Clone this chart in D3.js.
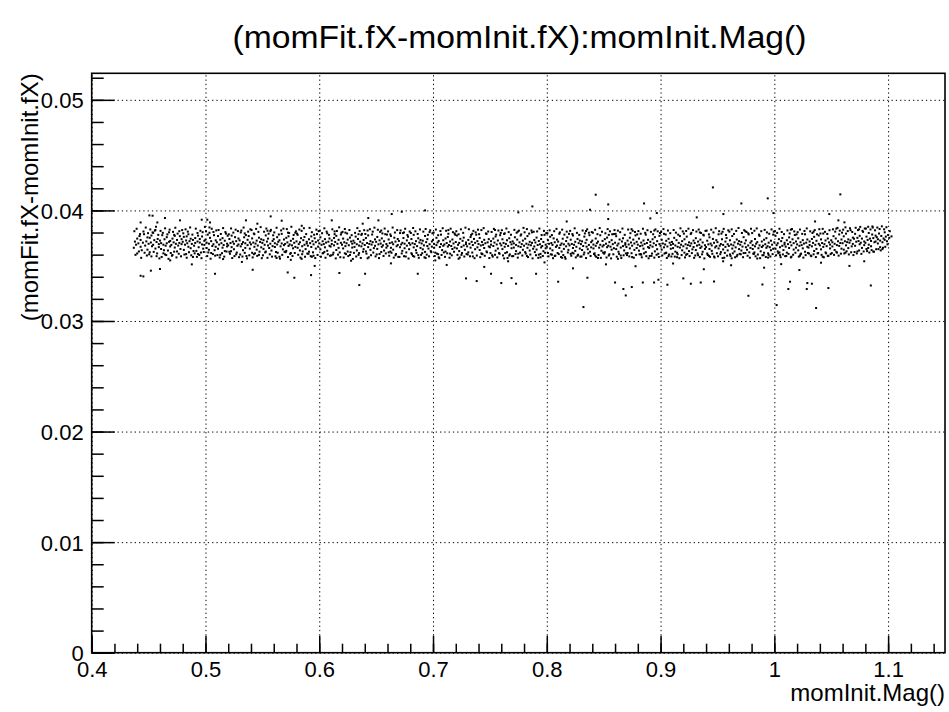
<!DOCTYPE html>
<html lang="en">
<head>
    <meta charset="utf-8">
    <style>
        body { margin: 0; background: #fff; }
        svg { display: block; }
        text { font-family: "Liberation Sans", Arial, Helvetica, sans-serif; fill: #000; }
    </style>
</head>
<body>
    <svg width="949" height="712"></svg>
    <script src="https://cdn.jsdelivr.net/npm/d3@7"></script>
    <script>
        /************************************************************************************
        * Data
        ************************************************************************************/
        const title = "(momFit.fX-momInit.fX):momInit.Mag()";
        const xTitle = "momInit.Mag()";
        const yTitle = "(momFit.fX-momInit.fX)";

        const xTicks = [0.4, 0.5, 0.6, 0.7, 0.8, 0.9, 1.0, 1.1];
        const xTickLabels = ["0.4", "0.5", "0.6", "0.7", "0.8", "0.9", "1", "1.1"];
        const yTicks = [0, 0.01, 0.02, 0.03, 0.04, 0.05];
        const yTickLabels = ["0", "0.01", "0.02", "0.03", "0.04", "0.05"];

        // [momInit.Mag(), momFit.fX - momInit.fX] : core of the band
        const bandPoints = [
            [0.437,0.03662],[0.438,0.03718],[0.439,0.03690],[0.440,0.03745],[0.440,0.03611],[0.441,0.03702],[0.442,0.03768],[0.443,0.03671],[0.443,0.03733],[0.444,0.03640],[0.445,0.03708],[0.446,0.03785],[0.447,0.03682],[0.448,0.03720],[0.449,0.03645],[0.449,0.03756],
            [0.450,0.03698],[0.451,0.03752],[0.451,0.03622],[0.452,0.03710],[0.453,0.03676],[0.454,0.03797],[0.454,0.03689],[0.455,0.03731],[0.456,0.03655],[0.457,0.03714],[0.457,0.03586],[0.458,0.03742],[0.459,0.03695],[0.459,0.03668],[0.456,0.03823],
            [0.460,0.03727],[0.461,0.03651],[0.461,0.03704],[0.462,0.03776],[0.463,0.03690],[0.463,0.03612],[0.464,0.03739],[0.465,0.03681],[0.466,0.03758],[0.466,0.03703],[0.467,0.03637],[0.468,0.03716],[0.468,0.03802],[0.469,0.03674],[0.469,0.03724],
            [0.470,0.03688],[0.471,0.03745],[0.471,0.03597],[0.472,0.03711],[0.473,0.03664],[0.473,0.03770],[0.474,0.03698],[0.475,0.03629],[0.475,0.03733],[0.476,0.03682],[0.477,0.03812],[0.477,0.03706],[0.478,0.03651],[0.479,0.03740],[0.479,0.03695],
            [0.480,0.03716],[0.481,0.03643],[0.481,0.03761],[0.482,0.03690],[0.483,0.03728],[0.483,0.03605],[0.484,0.03703],[0.485,0.03784],[0.485,0.03671],[0.486,0.03722],[0.487,0.03658],[0.487,0.03744],[0.488,0.03697],[0.489,0.03579],[0.489,0.03733],
            [0.490,0.03681],[0.491,0.03750],[0.491,0.03706],[0.492,0.03634],[0.493,0.03719],[0.493,0.03796],[0.494,0.03667],[0.495,0.03709],[0.495,0.03741],[0.496,0.03619],[0.497,0.03692],[0.497,0.03764],[0.498,0.03654],[0.499,0.03725],[0.499,0.03688],
            [0.500,0.03736],[0.501,0.03660],[0.501,0.03708],[0.502,0.03781],[0.503,0.03644],[0.503,0.03699],[0.504,0.03752],[0.505,0.03615],[0.505,0.03722],[0.506,0.03678],[0.507,0.03805],[0.507,0.03694],[0.508,0.03640],[0.509,0.03729],[0.509,0.03671],
            [0.510,0.03712],[0.511,0.03653],[0.511,0.03768],[0.512,0.03691],[0.513,0.03735],[0.513,0.03598],[0.514,0.03704],[0.515,0.03663],[0.515,0.03749],[0.516,0.03687],[0.517,0.03726],[0.517,0.03632],[0.518,0.03790],[0.519,0.03699],[0.519,0.03674],
            [0.520,0.03684],[0.521,0.03741],[0.521,0.03626],[0.522,0.03705],[0.523,0.03772],[0.523,0.03668],[0.524,0.03717],[0.525,0.03649],[0.525,0.03698],[0.526,0.03758],[0.527,0.03603],[0.527,0.03722],[0.528,0.03680],[0.529,0.03746],[0.529,0.03692],
            [0.530,0.03729],[0.531,0.03675],[0.531,0.03801],[0.532,0.03696],[0.533,0.03640],[0.533,0.03713],[0.534,0.03757],[0.535,0.03661],[0.535,0.03703],[0.536,0.03587],[0.537,0.03734],[0.537,0.03686],[0.538,0.03768],[0.539,0.03654],[0.539,0.03710],
            [0.540,0.03693],[0.541,0.03747],[0.541,0.03617],[0.542,0.03709],[0.543,0.03671],[0.543,0.03785],[0.544,0.03700],[0.545,0.03645],[0.545,0.03727],[0.546,0.03682],[0.547,0.03753],[0.547,0.03598],[0.548,0.03714],[0.549,0.03666],[0.549,0.03739],
            [0.550,0.03706],[0.551,0.03652],[0.551,0.03731],[0.552,0.03689],[0.553,0.03774],[0.553,0.03628],[0.554,0.03718],[0.555,0.03683],[0.555,0.03745],[0.556,0.03660],[0.557,0.03699],[0.557,0.03812],[0.558,0.03637],[0.559,0.03724],[0.559,0.03677],
            [0.560,0.03740],[0.561,0.03669],[0.561,0.03703],[0.562,0.03624],[0.563,0.03758],[0.563,0.03692],[0.564,0.03716],[0.565,0.03581],[0.565,0.03730],[0.566,0.03675],[0.567,0.03788],[0.567,0.03701],[0.568,0.03648],[0.569,0.03737],[0.569,0.03686],
            [0.570,0.03697],[0.571,0.03752],[0.571,0.03634],[0.572,0.03711],[0.573,0.03679],[0.573,0.03766],[0.574,0.03692],[0.575,0.03615],[0.575,0.03725],[0.576,0.03684],[0.577,0.03743],[0.577,0.03657],[0.578,0.03707],[0.579,0.03798],[0.579,0.03670],
            [0.580,0.03720],[0.581,0.03662],[0.581,0.03779],[0.582,0.03695],[0.583,0.03638],[0.583,0.03712],[0.584,0.03749],[0.585,0.03676],[0.585,0.03604],[0.586,0.03731],[0.587,0.03689],[0.587,0.03760],[0.588,0.03650],[0.589,0.03716],[0.589,0.03701],
            [0.590,0.03681],[0.591,0.03739],[0.591,0.03627],[0.592,0.03704],[0.593,0.03765],[0.593,0.03669],[0.594,0.03722],[0.595,0.03590],[0.595,0.03693],[0.596,0.03748],[0.597,0.03655],[0.597,0.03713],[0.598,0.03786],[0.599,0.03672],[0.599,0.03728],
            [0.600,0.03702],[0.601,0.03648],[0.601,0.03757],[0.602,0.03689],[0.603,0.03721],[0.603,0.03612],[0.604,0.03695],[0.605,0.03740],[0.605,0.03666],[0.606,0.03709],[0.607,0.03793],[0.607,0.03635],[0.608,0.03717],[0.609,0.03680],[0.609,0.03746],
            [0.610,0.03673],[0.611,0.03728],[0.611,0.03696],[0.612,0.03601],[0.613,0.03751],[0.613,0.03684],[0.614,0.03715],[0.615,0.03642],[0.615,0.03770],[0.616,0.03698],[0.617,0.03661],[0.617,0.03734],[0.618,0.03620],[0.619,0.03707],[0.619,0.03782],
            [0.620,0.03690],[0.621,0.03745],[0.621,0.03656],[0.622,0.03712],[0.623,0.03677],[0.623,0.03799],[0.624,0.03703],[0.625,0.03628],[0.625,0.03736],[0.626,0.03685],[0.627,0.03754],[0.627,0.03597],[0.628,0.03719],[0.629,0.03664],[0.629,0.03699],
            [0.630,0.03726],[0.631,0.03670],[0.631,0.03708],[0.632,0.03763],[0.633,0.03638],[0.633,0.03694],[0.634,0.03742],[0.635,0.03682],[0.635,0.03614],[0.636,0.03717],[0.637,0.03779],[0.637,0.03675],[0.638,0.03701],[0.639,0.03650],[0.639,0.03733],
            [0.640,0.03687],[0.641,0.03750],[0.641,0.03629],[0.642,0.03705],[0.643,0.03668],[0.643,0.03774],[0.644,0.03697],[0.645,0.03722],[0.645,0.03643],[0.646,0.03691],[0.647,0.03808],[0.647,0.03713],[0.648,0.03659],[0.649,0.03738],[0.649,0.03680],
            [0.650,0.03716],[0.651,0.03652],[0.651,0.03760],[0.652,0.03693],[0.653,0.03729],[0.653,0.03606],[0.654,0.03700],[0.655,0.03671],[0.655,0.03747],[0.656,0.03684],[0.657,0.03721],[0.657,0.03637],[0.658,0.03785],[0.659,0.03696],[0.659,0.03663],
            [0.660,0.03679],[0.661,0.03737],[0.661,0.03621],[0.662,0.03704],[0.663,0.03768],[0.663,0.03662],[0.664,0.03711],[0.665,0.03645],[0.665,0.03694],[0.666,0.03753],[0.667,0.03594],[0.667,0.03718],[0.668,0.03676],[0.669,0.03742],[0.669,0.03688],
            [0.670,0.03724],[0.671,0.03667],[0.671,0.03795],[0.672,0.03692],[0.673,0.03634],[0.673,0.03707],[0.674,0.03750],[0.675,0.03658],[0.675,0.03699],[0.676,0.03583],[0.677,0.03729],[0.677,0.03681],[0.678,0.03762],[0.679,0.03649],[0.679,0.03705],
            [0.680,0.03690],[0.681,0.03741],[0.681,0.03613],[0.682,0.03703],[0.683,0.03666],[0.683,0.03779],[0.684,0.03695],[0.685,0.03640],[0.685,0.03722],[0.686,0.03677],[0.687,0.03748],[0.687,0.03596],[0.688,0.03710],[0.689,0.03661],[0.689,0.03733],
            [0.690,0.03701],[0.691,0.03648],[0.691,0.03726],[0.692,0.03684],[0.693,0.03769],[0.693,0.03625],[0.694,0.03713],[0.695,0.03678],[0.695,0.03740],[0.696,0.03655],[0.697,0.03694],[0.697,0.03804],[0.698,0.03632],[0.699,0.03719],[0.699,0.03672],
            [0.700,0.03733],[0.701,0.03662],[0.701,0.03697],[0.702,0.03618],[0.703,0.03752],[0.703,0.03686],[0.704,0.03710],[0.705,0.03576],[0.705,0.03724],[0.706,0.03669],[0.707,0.03781],[0.707,0.03695],[0.708,0.03641],[0.709,0.03730],[0.709,0.03680],
            [0.710,0.03692],[0.711,0.03746],[0.711,0.03628],[0.712,0.03705],[0.713,0.03673],[0.713,0.03760],[0.714,0.03687],[0.715,0.03609],[0.715,0.03719],[0.716,0.03678],[0.717,0.03737],[0.717,0.03651],[0.718,0.03701],[0.719,0.03792],[0.719,0.03664],
            [0.720,0.03714],[0.721,0.03656],[0.721,0.03773],[0.722,0.03689],[0.723,0.03632],[0.723,0.03706],[0.724,0.03743],[0.725,0.03670],[0.725,0.03598],[0.726,0.03725],[0.727,0.03683],[0.727,0.03754],[0.728,0.03644],[0.729,0.03710],[0.729,0.03695],
            [0.730,0.03675],[0.731,0.03733],[0.731,0.03621],[0.732,0.03698],[0.733,0.03759],[0.733,0.03663],[0.734,0.03716],[0.735,0.03584],[0.735,0.03687],[0.736,0.03742],[0.737,0.03649],[0.737,0.03707],[0.738,0.03780],[0.739,0.03666],[0.739,0.03722],
            [0.740,0.03696],[0.741,0.03642],[0.741,0.03751],[0.742,0.03683],[0.743,0.03715],[0.743,0.03606],[0.744,0.03689],[0.745,0.03734],[0.745,0.03660],[0.746,0.03703],[0.747,0.03787],[0.747,0.03629],[0.748,0.03711],[0.749,0.03674],[0.749,0.03740],
            [0.750,0.03667],[0.751,0.03722],[0.751,0.03690],[0.752,0.03595],[0.753,0.03745],[0.753,0.03678],[0.754,0.03709],[0.755,0.03636],[0.755,0.03764],[0.756,0.03692],[0.757,0.03655],[0.757,0.03728],[0.758,0.03614],[0.759,0.03701],[0.759,0.03776],
            [0.760,0.03684],[0.761,0.03739],[0.761,0.03650],[0.762,0.03706],[0.763,0.03671],[0.763,0.03793],[0.764,0.03697],[0.765,0.03622],[0.765,0.03730],[0.766,0.03679],[0.767,0.03748],[0.767,0.03591],[0.768,0.03713],[0.769,0.03658],[0.769,0.03693],
            [0.770,0.03720],[0.771,0.03664],[0.771,0.03702],[0.772,0.03757],[0.773,0.03632],[0.773,0.03688],[0.774,0.03736],[0.775,0.03676],[0.775,0.03608],[0.776,0.03711],[0.777,0.03773],[0.777,0.03669],[0.778,0.03695],[0.779,0.03644],[0.779,0.03727],
            [0.780,0.03681],[0.781,0.03744],[0.781,0.03623],[0.782,0.03699],[0.783,0.03662],[0.783,0.03768],[0.784,0.03691],[0.785,0.03716],[0.785,0.03637],[0.786,0.03685],[0.787,0.03802],[0.787,0.03707],[0.788,0.03653],[0.789,0.03732],[0.789,0.03674],
            [0.790,0.03710],[0.791,0.03646],[0.791,0.03754],[0.792,0.03687],[0.793,0.03723],[0.793,0.03600],[0.794,0.03694],[0.795,0.03665],[0.795,0.03741],[0.796,0.03678],[0.797,0.03715],[0.797,0.03631],[0.798,0.03779],[0.799,0.03690],[0.799,0.03657],
            [0.800,0.03673],[0.801,0.03731],[0.801,0.03615],[0.802,0.03698],[0.803,0.03762],[0.803,0.03656],[0.804,0.03705],[0.805,0.03639],[0.805,0.03688],[0.806,0.03747],[0.807,0.03588],[0.807,0.03712],[0.808,0.03670],[0.809,0.03736],[0.809,0.03682],
            [0.810,0.03718],[0.811,0.03661],[0.811,0.03789],[0.812,0.03686],[0.813,0.03628],[0.813,0.03701],[0.814,0.03744],[0.815,0.03652],[0.815,0.03693],[0.816,0.03577],[0.817,0.03723],[0.817,0.03675],[0.818,0.03756],[0.819,0.03643],[0.819,0.03699],
            [0.820,0.03684],[0.821,0.03735],[0.821,0.03607],[0.822,0.03697],[0.823,0.03660],[0.823,0.03773],[0.824,0.03689],[0.825,0.03634],[0.825,0.03716],[0.826,0.03671],[0.827,0.03742],[0.827,0.03590],[0.828,0.03704],[0.829,0.03655],[0.829,0.03727],
            [0.830,0.03695],[0.831,0.03642],[0.831,0.03720],[0.832,0.03678],[0.833,0.03763],[0.833,0.03619],[0.834,0.03707],[0.835,0.03672],[0.835,0.03734],[0.836,0.03649],[0.837,0.03688],[0.837,0.03798],[0.838,0.03626],[0.839,0.03713],[0.839,0.03666],
            [0.840,0.03727],[0.841,0.03656],[0.841,0.03691],[0.842,0.03612],[0.843,0.03746],[0.843,0.03680],[0.844,0.03704],[0.845,0.03570],[0.845,0.03718],[0.846,0.03663],[0.847,0.03775],[0.847,0.03689],[0.848,0.03635],[0.849,0.03724],[0.849,0.03674],
            [0.850,0.03686],[0.851,0.03740],[0.851,0.03622],[0.852,0.03699],[0.853,0.03667],[0.853,0.03754],[0.854,0.03681],[0.855,0.03603],[0.855,0.03713],[0.856,0.03672],[0.857,0.03731],[0.857,0.03645],[0.858,0.03695],[0.859,0.03786],[0.859,0.03658],
            [0.860,0.03708],[0.861,0.03650],[0.861,0.03767],[0.862,0.03683],[0.863,0.03626],[0.863,0.03700],[0.864,0.03737],[0.865,0.03664],[0.865,0.03592],[0.866,0.03719],[0.867,0.03677],[0.867,0.03748],[0.868,0.03638],[0.869,0.03704],[0.869,0.03689],
            [0.870,0.03669],[0.871,0.03727],[0.871,0.03615],[0.872,0.03692],[0.873,0.03753],[0.873,0.03657],[0.874,0.03710],[0.875,0.03578],[0.875,0.03681],[0.876,0.03736],[0.877,0.03643],[0.877,0.03701],[0.878,0.03774],[0.879,0.03660],[0.879,0.03716],
            [0.880,0.03690],[0.881,0.03636],[0.881,0.03745],[0.882,0.03677],[0.883,0.03709],[0.883,0.03600],[0.884,0.03683],[0.885,0.03728],[0.885,0.03654],[0.886,0.03697],[0.887,0.03781],[0.887,0.03623],[0.888,0.03705],[0.889,0.03668],[0.889,0.03734],
            [0.890,0.03661],[0.891,0.03716],[0.891,0.03684],[0.892,0.03589],[0.893,0.03739],[0.893,0.03672],[0.894,0.03703],[0.895,0.03630],[0.895,0.03758],[0.896,0.03686],[0.897,0.03649],[0.897,0.03722],[0.898,0.03608],[0.899,0.03695],[0.899,0.03770],
            [0.900,0.03680],[0.901,0.03734],[0.901,0.03645],[0.902,0.03701],[0.903,0.03666],[0.903,0.03788],[0.904,0.03692],[0.905,0.03617],[0.905,0.03725],[0.906,0.03674],[0.907,0.03743],[0.907,0.03586],[0.908,0.03708],[0.909,0.03653],[0.909,0.03688],
            [0.910,0.03715],[0.911,0.03659],[0.911,0.03697],[0.912,0.03752],[0.913,0.03627],[0.913,0.03683],[0.914,0.03731],[0.915,0.03671],[0.915,0.03603],[0.916,0.03706],[0.917,0.03768],[0.917,0.03664],[0.918,0.03690],[0.919,0.03639],[0.919,0.03722],
            [0.920,0.03676],[0.921,0.03739],[0.921,0.03618],[0.922,0.03694],[0.923,0.03657],[0.923,0.03763],[0.924,0.03686],[0.925,0.03711],[0.925,0.03632],[0.926,0.03680],[0.927,0.03797],[0.927,0.03702],[0.928,0.03648],[0.929,0.03727],[0.929,0.03669],
            [0.930,0.03705],[0.931,0.03641],[0.931,0.03749],[0.932,0.03682],[0.933,0.03718],[0.933,0.03595],[0.934,0.03689],[0.935,0.03660],[0.935,0.03736],[0.936,0.03673],[0.937,0.03710],[0.937,0.03626],[0.938,0.03774],[0.939,0.03685],[0.939,0.03652],
            [0.940,0.03668],[0.941,0.03726],[0.941,0.03610],[0.942,0.03693],[0.943,0.03757],[0.943,0.03651],[0.944,0.03700],[0.945,0.03634],[0.945,0.03683],[0.946,0.03742],[0.947,0.03583],[0.947,0.03707],[0.948,0.03665],[0.949,0.03731],[0.949,0.03677],
            [0.950,0.03713],[0.951,0.03656],[0.951,0.03784],[0.952,0.03681],[0.953,0.03623],[0.953,0.03696],[0.954,0.03739],[0.955,0.03647],[0.955,0.03688],[0.956,0.03572],[0.957,0.03718],[0.957,0.03670],[0.958,0.03751],[0.959,0.03638],[0.959,0.03694],
            [0.960,0.03679],[0.961,0.03730],[0.961,0.03602],[0.962,0.03692],[0.963,0.03655],[0.963,0.03768],[0.964,0.03684],[0.965,0.03629],[0.965,0.03711],[0.966,0.03666],[0.967,0.03737],[0.967,0.03585],[0.968,0.03699],[0.969,0.03650],[0.969,0.03722],
            [0.970,0.03690],[0.971,0.03637],[0.971,0.03715],[0.972,0.03673],[0.973,0.03758],[0.973,0.03614],[0.974,0.03702],[0.975,0.03667],[0.975,0.03729],[0.976,0.03644],[0.977,0.03683],[0.977,0.03793],[0.978,0.03621],[0.979,0.03708],[0.979,0.03661],
            [0.980,0.03722],[0.981,0.03651],[0.981,0.03686],[0.982,0.03607],[0.983,0.03741],[0.983,0.03675],[0.984,0.03699],[0.985,0.03565],[0.985,0.03713],[0.986,0.03658],[0.987,0.03770],[0.987,0.03684],[0.988,0.03630],[0.989,0.03719],[0.989,0.03669],
            [0.990,0.03681],[0.991,0.03735],[0.991,0.03617],[0.992,0.03694],[0.993,0.03662],[0.993,0.03749],[0.994,0.03676],[0.995,0.03598],[0.995,0.03708],[0.996,0.03667],[0.997,0.03726],[0.997,0.03640],[0.998,0.03690],[0.999,0.03781],[0.999,0.03653],
            [1.000,0.03711],[1.001,0.03653],[1.001,0.03770],[1.002,0.03686],[1.003,0.03629],[1.003,0.03703],[1.004,0.03740],[1.005,0.03667],[1.005,0.03595],[1.006,0.03722],[1.007,0.03680],[1.007,0.03751],[1.008,0.03641],[1.009,0.03707],[1.009,0.03692],
            [1.010,0.03672],[1.011,0.03730],[1.011,0.03618],[1.012,0.03695],[1.013,0.03756],[1.013,0.03660],[1.014,0.03713],[1.015,0.03581],[1.015,0.03684],[1.016,0.03739],[1.017,0.03646],[1.017,0.03704],[1.018,0.03777],[1.019,0.03663],[1.019,0.03719],
            [1.020,0.03693],[1.021,0.03639],[1.021,0.03748],[1.022,0.03680],[1.023,0.03712],[1.023,0.03603],[1.024,0.03686],[1.025,0.03731],[1.025,0.03657],[1.026,0.03700],[1.027,0.03784],[1.027,0.03626],[1.028,0.03708],[1.029,0.03671],[1.029,0.03737],
            [1.030,0.03664],[1.031,0.03719],[1.031,0.03687],[1.032,0.03592],[1.033,0.03742],[1.033,0.03675],[1.034,0.03706],[1.035,0.03633],[1.035,0.03761],[1.036,0.03689],[1.037,0.03652],[1.037,0.03725],[1.038,0.03611],[1.039,0.03698],[1.039,0.03773],
            [1.040,0.03684],[1.041,0.03738],[1.041,0.03648],[1.042,0.03705],[1.043,0.03670],[1.043,0.03791],[1.044,0.03695],[1.045,0.03620],[1.045,0.03728],[1.046,0.03677],[1.047,0.03746],[1.047,0.03589],[1.048,0.03711],[1.049,0.03656],[1.049,0.03691],
            [1.050,0.03730],[1.051,0.03674],[1.051,0.03712],[1.052,0.03767],[1.053,0.03642],[1.053,0.03698],[1.054,0.03746],[1.055,0.03686],[1.055,0.03618],[1.056,0.03721],[1.057,0.03783],[1.057,0.03679],[1.058,0.03705],[1.059,0.03654],[1.059,0.03737],
            [1.060,0.03703],[1.061,0.03766],[1.061,0.03645],[1.062,0.03721],[1.063,0.03684],[1.063,0.03790],[1.064,0.03713],[1.065,0.03738],[1.065,0.03659],[1.066,0.03708],[1.067,0.03821],[1.067,0.03729],[1.068,0.03675],[1.069,0.03754],[1.069,0.03697],
            [1.070,0.03744],[1.071,0.03680],[1.071,0.03788],[1.072,0.03717],[1.073,0.03752],[1.073,0.03629],[1.074,0.03723],[1.075,0.03694],[1.075,0.03770],[1.076,0.03708],[1.077,0.03745],[1.077,0.03661],[1.078,0.03806],[1.079,0.03719],[1.079,0.03686],
            [1.080,0.03707],[1.081,0.03763],[1.081,0.03651],[1.082,0.03733],[1.083,0.03796],[1.083,0.03690],[1.084,0.03745],[1.085,0.03676],[1.085,0.03724],[1.086,0.03782],[1.087,0.03628],[1.087,0.03750],[1.088,0.03712],[1.089,0.03772],[1.089,0.03719],
            [1.090,0.03758],[1.091,0.03701],[1.091,0.03739],[1.092,0.03791],[1.093,0.03668],[1.093,0.03727],[1.094,0.03769],[1.095,0.03712],[1.095,0.03650],[1.096,0.03746],[1.097,0.03802],[1.097,0.03734],[1.098,0.03763],[1.099,0.03721],[1.100,0.03778],[1.101,0.03752],[1.103,0.03765]
        ];

        // Fringe of the band, above and below the core
        const fringePoints = [
            [0.4375,0.03812],[0.4385,0.03598],[0.4395,0.03834],[0.4415,0.03629],[0.4425,0.03786],[0.4435,0.03571],[0.4455,0.03809],[0.4465,0.03617],[0.4475,0.03845],[0.4485,0.03592],[0.4495,0.03794],
            [0.4505,0.03603],[0.4515,0.03828],[0.4525,0.03584],[0.4535,0.03801],[0.4545,0.03625],[0.4565,0.03852],[0.4575,0.03611],[0.4585,0.03779],[0.4595,0.03566],[0.4555,0.03817],[0.4525,0.03773],
            [0.4605,0.03815],[0.4615,0.03579],[0.4625,0.03797],[0.4635,0.03640],[0.4645,0.03838],[0.4655,0.03596],[0.4665,0.03783],[0.4675,0.03562],[0.4685,0.03826],[0.4695,0.03615],[0.4645,0.03602],
            [0.4705,0.03590],[0.4715,0.03806],[0.4725,0.03627],[0.4735,0.03843],[0.4745,0.03575],[0.4755,0.03790],[0.4765,0.03608],[0.4775,0.03767],[0.4785,0.03585],[0.4795,0.03822],[0.4725,0.03779],
            [0.4805,0.03793],[0.4815,0.03601],[0.4825,0.03829],[0.4835,0.03572],[0.4845,0.03808],[0.4855,0.03622],[0.4865,0.03846],[0.4875,0.03594],[0.4885,0.03781],[0.4895,0.03633],[0.4835,0.03765],
            [0.4905,0.03612],[0.4915,0.03835],[0.4925,0.03580],[0.4935,0.03772],[0.4945,0.03597],[0.4955,0.03816],[0.4965,0.03568],[0.4975,0.03803],[0.4985,0.03624],[0.4995,0.03851],[0.4935,0.03606],
            [0.5005,0.03811],[0.5015,0.03587],[0.5025,0.03620],[0.5035,0.03798],[0.5045,0.03563],[0.5055,0.03834],[0.5065,0.03605],[0.5075,0.03776],[0.5085,0.03591],[0.5095,0.03819],[0.5035,0.03846],
            [0.5105,0.03596],[0.5115,0.03823],[0.5125,0.03574],[0.5135,0.03787],[0.5145,0.03613],[0.5155,0.03840],[0.5165,0.03582],[0.5175,0.03804],[0.5185,0.03628],[0.5195,0.03771],[0.5155,0.03560],
            [0.5205,0.03784],[0.5215,0.03608],[0.5225,0.03837],[0.5235,0.03569],[0.5245,0.03799],[0.5255,0.03587],[0.5265,0.03826],[0.5275,0.03619],[0.5285,0.03813],[0.5295,0.03577],[0.5225,0.03631],
            [0.5305,0.03601],[0.5315,0.03818],[0.5325,0.03583],[0.5335,0.03845],[0.5345,0.03616],[0.5355,0.03777],[0.5365,0.03566],[0.5375,0.03808],[0.5385,0.03594],[0.5395,0.03829],[0.5345,0.03792],
            [0.5405,0.03822],[0.5415,0.03575],[0.5425,0.03791],[0.5435,0.03612],[0.5445,0.03833],[0.5455,0.03589],[0.5465,0.03806],[0.5475,0.03627],[0.5485,0.03849],[0.5495,0.03568],[0.5425,0.03604],
            [0.5505,0.03594],[0.5515,0.03807],[0.5525,0.03620],[0.5535,0.03836],[0.5545,0.03571],[0.5555,0.03789],[0.5565,0.03603],[0.5575,0.03824],[0.5585,0.03582],[0.5595,0.03775],[0.5545,0.03816],
            [0.5605,0.03801],[0.5615,0.03585],[0.5625,0.03843],[0.5635,0.03617],[0.5645,0.03782],[0.5655,0.03564],[0.5665,0.03819],[0.5675,0.03598],[0.5685,0.03835],[0.5695,0.03626],[0.5625,0.03570],
            [0.5705,0.03622],[0.5715,0.03831],[0.5725,0.03578],[0.5735,0.03796],[0.5745,0.03607],[0.5755,0.03852],[0.5765,0.03588],[0.5775,0.03778],[0.5785,0.03615],[0.5795,0.03811],[0.5725,0.03799],
            [0.5805,0.03790],[0.5815,0.03599],[0.5825,0.03827],[0.5835,0.03573],[0.5845,0.03815],[0.5855,0.03629],[0.5865,0.03839],[0.5875,0.03581],[0.5885,0.03786],[0.5895,0.03610],[0.5845,0.03562],
            [0.5905,0.03608],[0.5915,0.03842],[0.5925,0.03586],[0.5935,0.03803],[0.5945,0.03621],[0.5955,0.03780],[0.5965,0.03569],[0.5975,0.03826],[0.5985,0.03597],[0.5995,0.03812],[0.5935,0.03581],
            [0.6005,0.03817],[0.6015,0.03581],[0.6025,0.03794],[0.6035,0.03614],[0.6045,0.03838],[0.6055,0.03572],[0.6065,0.03808],[0.6075,0.03603],[0.6085,0.03779],[0.6095,0.03590],[0.6045,0.03625],
            [0.6105,0.03593],[0.6115,0.03829],[0.6125,0.03618],[0.6135,0.03785],[0.6145,0.03566],[0.6155,0.03814],[0.6165,0.03600],[0.6175,0.03847],[0.6185,0.03577],[0.6195,0.03798],[0.6135,0.03810],
            [0.6205,0.03806],[0.6215,0.03574],[0.6225,0.03832],[0.6235,0.03605],[0.6245,0.03791],[0.6255,0.03587],[0.6265,0.03823],[0.6275,0.03622],[0.6285,0.03776],[0.6295,0.03561],[0.6225,0.03612],
            [0.6305,0.03616],[0.6315,0.03797],[0.6325,0.03583],[0.6335,0.03840],[0.6345,0.03598],[0.6355,0.03813],[0.6365,0.03570],[0.6375,0.03788],[0.6385,0.03627],[0.6395,0.03821],[0.6345,0.03785],
            [0.6405,0.03787],[0.6415,0.03609],[0.6425,0.03818],[0.6435,0.03576],[0.6445,0.03830],[0.6455,0.03595],[0.6465,0.03782],[0.6475,0.03619],[0.6485,0.03844],[0.6495,0.03584],[0.6425,0.03567],
            [0.6505,0.03602],[0.6515,0.03825],[0.6525,0.03569],[0.6535,0.03806],[0.6545,0.03624],[0.6555,0.03792],[0.6565,0.03588],[0.6575,0.03836],[0.6585,0.03611],[0.6595,0.03781],[0.6545,0.03818],
            [0.6605,0.03810],[0.6615,0.03590],[0.6625,0.03783],[0.6635,0.03617],[0.6645,0.03845],[0.6655,0.03573],[0.6665,0.03800],[0.6675,0.03606],[0.6685,0.03822],[0.6695,0.03580],[0.6625,0.03628],
            [0.6705,0.03579],[0.6715,0.03819],[0.6725,0.03611],[0.6735,0.03795],[0.6745,0.03586],[0.6755,0.03834],[0.6765,0.03620],[0.6775,0.03777],[0.6785,0.03565],[0.6795,0.03809],[0.6745,0.03801],
            [0.6805,0.03796],[0.6815,0.03603],[0.6825,0.03841],[0.6835,0.03582],[0.6845,0.03811],[0.6855,0.03616],[0.6865,0.03787],[0.6875,0.03571],[0.6885,0.03828],[0.6895,0.03598],[0.6825,0.03588],
            [0.6905,0.03613],[0.6915,0.03808],[0.6925,0.03576],[0.6935,0.03832],[0.6945,0.03600],[0.6955,0.03779],[0.6965,0.03585],[0.6975,0.03820],[0.6985,0.03622],[0.6995,0.03793],[0.6935,0.03570],
            [0.7005,0.03799],[0.7015,0.03588],[0.7025,0.03827],[0.7035,0.03609],[0.7045,0.03776],[0.7055,0.03567],[0.7065,0.03814],[0.7075,0.03597],[0.7085,0.03839],[0.7095,0.03620],[0.7045,0.03604],
            [0.7105,0.03580],[0.7115,0.03816],[0.7125,0.03612],[0.7135,0.03789],[0.7145,0.03572],[0.7155,0.03835],[0.7165,0.03594],[0.7175,0.03803],[0.7185,0.03626],[0.7195,0.03780],[0.7135,0.03822],
            [0.7205,0.03812],[0.7215,0.03598],[0.7225,0.03784],[0.7235,0.03574],[0.7245,0.03829],[0.7255,0.03615],[0.7265,0.03797],[0.7275,0.03583],[0.7285,0.03844],[0.7295,0.03606],[0.7225,0.03563],
            [0.7305,0.03601],[0.7315,0.03830],[0.7325,0.03585],[0.7335,0.03778],[0.7345,0.03619],[0.7355,0.03815],[0.7365,0.03568],[0.7375,0.03801],[0.7385,0.03592],[0.7395,0.03826],[0.7345,0.03789],
            [0.7405,0.03785],[0.7415,0.03577],[0.7425,0.03822],[0.7435,0.03604],[0.7445,0.03840],[0.7455,0.03590],[0.7465,0.03792],[0.7475,0.03621],[0.7485,0.03809],[0.7495,0.03569],[0.7425,0.03612],
            [0.7505,0.03614],[0.7515,0.03805],[0.7525,0.03582],[0.7535,0.03833],[0.7545,0.03599],[0.7555,0.03781],[0.7565,0.03575],[0.7575,0.03818],[0.7585,0.03608],[0.7595,0.03796],[0.7545,0.03823],
            [0.7605,0.03821],[0.7615,0.03593],[0.7625,0.03787],[0.7635,0.03614],[0.7645,0.03836],[0.7655,0.03570],[0.7665,0.03804],[0.7675,0.03602],[0.7685,0.03780],[0.7695,0.03586],[0.7625,0.03566],
            [0.7705,0.03587],[0.7715,0.03824],[0.7725,0.03605],[0.7735,0.03798],[0.7745,0.03573],[0.7755,0.03817],[0.7765,0.03618],[0.7775,0.03783],[0.7785,0.03592],[0.7795,0.03842],[0.7745,0.03808],
            [0.7805,0.03802],[0.7815,0.03610],[0.7825,0.03831],[0.7835,0.03578],[0.7845,0.03790],[0.7855,0.03601],[0.7865,0.03819],[0.7875,0.03566],[0.7885,0.03807],[0.7895,0.03623],[0.7825,0.03589],
            [0.7905,0.03595],[0.7915,0.03810],[0.7925,0.03571],[0.7935,0.03836],[0.7945,0.03607],[0.7955,0.03777],[0.7965,0.03588],[0.7975,0.03815],[0.7985,0.03617],[0.7995,0.03794],[0.7945,0.03576],
            [0.8005,0.03794],[0.8015,0.03584],[0.8025,0.03820],[0.8035,0.03603],[0.8045,0.03777],[0.8055,0.03568],[0.8065,0.03812],[0.8075,0.03591],[0.8085,0.03833],[0.8095,0.03615],[0.8045,0.03600],
            [0.8105,0.03605],[0.8115,0.03801],[0.8125,0.03578],[0.8135,0.03826],[0.8145,0.03596],[0.8155,0.03781],[0.8165,0.03563],[0.8175,0.03808],[0.8185,0.03620],[0.8195,0.03788],[0.8135,0.03572],
            [0.8205,0.03815],[0.8215,0.03590],[0.8225,0.03786],[0.8235,0.03611],[0.8245,0.03838],[0.8255,0.03575],[0.8265,0.03797],[0.8275,0.03599],[0.8285,0.03779],[0.8295,0.03582],[0.8225,0.03617],
            [0.8305,0.03583],[0.8315,0.03818],[0.8325,0.03602],[0.8335,0.03792],[0.8345,0.03569],[0.8355,0.03829],[0.8365,0.03612],[0.8375,0.03776],[0.8385,0.03588],[0.8395,0.03804],[0.8345,0.03814],
            [0.8405,0.03798],[0.8415,0.03606],[0.8425,0.03825],[0.8435,0.03580],[0.8445,0.03785],[0.8455,0.03597],[0.8465,0.03840],[0.8475,0.03571],[0.8485,0.03807],[0.8495,0.03618],[0.8425,0.03592],
            [0.8505,0.03609],[0.8515,0.03793],[0.8525,0.03574],[0.8535,0.03831],[0.8545,0.03592],[0.8555,0.03811],[0.8565,0.03566],[0.8575,0.03784],[0.8585,0.03603],[0.8595,0.03822],[0.8545,0.03779],
            [0.8605,0.03788],[0.8615,0.03581],[0.8625,0.03817],[0.8635,0.03607],[0.8645,0.03803],[0.8655,0.03569],[0.8665,0.03836],[0.8675,0.03594],[0.8685,0.03779],[0.8695,0.03611],[0.8625,0.03562],
            [0.8705,0.03596],[0.8715,0.03827],[0.8725,0.03584],[0.8735,0.03794],[0.8745,0.03613],[0.8755,0.03816],[0.8765,0.03572],[0.8775,0.03805],[0.8785,0.03598],[0.8795,0.03783],[0.8745,0.03830],
            [0.8805,0.03813],[0.8815,0.03603],[0.8825,0.03789],[0.8835,0.03576],[0.8845,0.03834],[0.8855,0.03612],[0.8865,0.03797],[0.8875,0.03586],[0.8885,0.03821],[0.8895,0.03567],[0.8825,0.03606],
            [0.8905,0.03588],[0.8915,0.03806],[0.8925,0.03610],[0.8935,0.03784],[0.8945,0.03573],[0.8955,0.03828],[0.8965,0.03599],[0.8975,0.03811],[0.8985,0.03579],[0.8995,0.03795],[0.8945,0.03818],
            [0.9005,0.03805],[0.9015,0.03593],[0.9025,0.03831],[0.9035,0.03610],[0.9045,0.03782],[0.9055,0.03570],[0.9065,0.03818],[0.9075,0.03601],[0.9085,0.03794],[0.9095,0.03583],[0.9045,0.03615],
            [0.9105,0.03607],[0.9115,0.03823],[0.9125,0.03582],[0.9135,0.03799],[0.9145,0.03617],[0.9155,0.03781],[0.9165,0.03568],[0.9175,0.03838],[0.9185,0.03596],[0.9195,0.03810],[0.9145,0.03577],
            [0.9205,0.03790],[0.9215,0.03575],[0.9225,0.03814],[0.9235,0.03606],[0.9245,0.03835],[0.9255,0.03587],[0.9265,0.03786],[0.9275,0.03614],[0.9285,0.03822],[0.9295,0.03571],[0.9225,0.03598],
            [0.9305,0.03592],[0.9315,0.03809],[0.9325,0.03611],[0.9335,0.03827],[0.9345,0.03578],[0.9355,0.03796],[0.9365,0.03603],[0.9375,0.03780],[0.9385,0.03566],[0.9395,0.03815],[0.9345,0.03801],
            [0.9405,0.03817],[0.9415,0.03597],[0.9425,0.03783],[0.9435,0.03580],[0.9445,0.03826],[0.9455,0.03608],[0.9465,0.03801],[0.9475,0.03574],[0.9485,0.03839],[0.9495,0.03613],[0.9425,0.03589],
            [0.9505,0.03585],[0.9515,0.03812],[0.9525,0.03604],[0.9535,0.03790],[0.9545,0.03569],[0.9555,0.03833],[0.9565,0.03616],[0.9575,0.03778],[0.9585,0.03591],[0.9595,0.03820],[0.9545,0.03807],
            [0.9605,0.03808],[0.9615,0.03588],[0.9625,0.03829],[0.9635,0.03612],[0.9645,0.03787],[0.9655,0.03576],[0.9665,0.03815],[0.9675,0.03598],[0.9685,0.03841],[0.9695,0.03607],[0.9625,0.03567],
            [0.9705,0.03603],[0.9715,0.03796],[0.9725,0.03577],[0.9735,0.03821],[0.9745,0.03615],[0.9755,0.03805],[0.9765,0.03590],[0.9775,0.03783],[0.9785,0.03572],[0.9795,0.03834],[0.9745,0.03812],
            [0.9805,0.03795],[0.9815,0.03609],[0.9825,0.03816],[0.9835,0.03585],[0.9845,0.03837],[0.9855,0.03601],[0.9865,0.03781],[0.9875,0.03568],[0.9885,0.03812],[0.9895,0.03594],[0.9825,0.03620],
            [0.9905,0.03596],[0.9915,0.03824],[0.9925,0.03579],[0.9935,0.03801],[0.9945,0.03612],[0.9955,0.03789],[0.9965,0.03583],[0.9975,0.03828],[0.9985,0.03605],[0.9995,0.03808],[0.9945,0.03573],
            [1.0005,0.03812],[1.0015,0.03594],[1.0025,0.03797],[1.0035,0.03613],[1.0045,0.03834],[1.0055,0.03577],[1.0065,0.03805],[1.0075,0.03602],[1.0085,0.03785],[1.0095,0.03586],[1.0045,0.03620],
            [1.0105,0.03588],[1.0115,0.03819],[1.0125,0.03607],[1.0135,0.03792],[1.0145,0.03575],[1.0155,0.03831],[1.0165,0.03599],[1.0175,0.03810],[1.0185,0.03617],[1.0195,0.03783],[1.0145,0.03826],
            [1.0205,0.03803],[1.0215,0.03582],[1.0225,0.03827],[1.0235,0.03609],[1.0245,0.03788],[1.0255,0.03573],[1.0265,0.03814],[1.0275,0.03596],[1.0285,0.03837],[1.0295,0.03615],[1.0225,0.03590],
            [1.0305,0.03610],[1.0315,0.03811],[1.0325,0.03586],[1.0335,0.03796],[1.0345,0.03603],[1.0355,0.03822],[1.0365,0.03578],[1.0375,0.03784],[1.0385,0.03614],[1.0395,0.03830],[1.0345,0.03808],
            [1.0405,0.03791],[1.0415,0.03598],[1.0425,0.03833],[1.0435,0.03576],[1.0445,0.03806],[1.0455,0.03612],[1.0465,0.03787],[1.0475,0.03589],[1.0485,0.03821],[1.0495,0.03605],[1.0425,0.03581],
            [1.0505,0.03614],[1.0515,0.03829],[1.0525,0.03598],[1.0535,0.03808],[1.0545,0.03625],[1.0555,0.03842],[1.0565,0.03591],[1.0575,0.03817],[1.0585,0.03609],[1.0595,0.03799],[1.0545,0.03835],
            [1.0605,0.03826],[1.0615,0.03611],[1.0625,0.03847],[1.0635,0.03630],[1.0645,0.03813],[1.0655,0.03602],[1.0665,0.03839],[1.0675,0.03621],[1.0685,0.03805],[1.0695,0.03596],[1.0625,0.03618],
            [1.0705,0.03624],[1.0715,0.03843],[1.0725,0.03611],[1.0735,0.03822],[1.0745,0.03638],[1.0755,0.03851],[1.0765,0.03607],[1.0775,0.03815],[1.0785,0.03629],[1.0795,0.03836],[1.0745,0.03829],
            [1.0805,0.03836],[1.0815,0.03632],[1.0825,0.03852],[1.0835,0.03619],[1.0845,0.03828],[1.0855,0.03641],[1.0865,0.03845],[1.0875,0.03626],[1.0885,0.03820],[1.0895,0.03649],[1.0825,0.03660],
            [1.0905,0.03845],[1.0915,0.03650],[1.0925,0.03832],[1.0935,0.03638],[1.0945,0.03856],[1.0955,0.03662],[1.0965,0.03829],[1.0975,0.03671],[1.0985,0.03848],[1.0995,0.03693],[1.1015,0.03812]
        ];

        // Scattered entries away from the band
        const tailPoints = [
            [0.443,0.03409],[0.4454,0.03403],[0.460,0.03470],[0.452,0.03455],[0.5084,0.03427],[0.5415,0.03463],[0.5723,0.03439],[0.5781,0.03391],
            [0.5928,0.03415],[0.6177,0.03434],[0.6352,0.03325],[0.6403,0.03427],[0.6866,0.03427],[0.729,0.03385],[0.7384,0.03361],[0.751,0.03427],
            [0.760,0.03343],[0.769,0.03388],[0.773,0.03337],[0.7906,0.03427],[0.810,0.03355],[0.8322,0.03126],[0.8357,0.03391],[0.860,0.03348],
            [0.8673,0.03289],[0.8694,0.03231],[0.8747,0.03307],[0.8844,0.03348],[0.8943,0.03348],[0.8981,0.03373],[0.906,0.03328],[0.920,0.03385],
            [0.9266,0.03337],[0.9353,0.03348],[0.947,0.03357],[0.9772,0.03228],[0.9895,0.03330],[1.002,0.03144],[1.0138,0.03355],[1.0123,0.03289],
            [1.029,0.03343],[1.033,0.03337],[1.0285,0.03289],[1.0367,0.03117],[1.0475,0.03298],[1.0848,0.03321],
            [0.488,0.03512],[0.532,0.03534],[0.596,0.03498],[0.663,0.03521],[0.712,0.03507],[0.745,0.03489],[0.798,0.03530],[0.823,0.03476],
            [0.852,0.03512],[0.878,0.03495],[0.911,0.03520],[0.938,0.03468],[0.962,0.03504],[0.991,0.03482],[1.006,0.03514],[1.022,0.03461],
            [1.041,0.03527],[1.066,0.03498],[1.079,0.03540],[0.702,0.03548],[0.628,0.03545],[0.575,0.03553],[0.469,0.03548],[0.766,0.03540],[0.955,0.03540],
            [0.4507,0.03955],[0.4535,0.03952],[0.443,0.03891],[0.4577,0.03891],[0.4644,0.03931],[0.4776,0.03910],[0.4967,0.03916],[0.5016,0.03916],
            [0.504,0.03891],[0.5356,0.03910],[0.5573,0.03946],[0.5456,0.03880],[0.567,0.03907],[0.5846,0.03861],[0.611,0.03910],[0.6382,0.03880],
            [0.6431,0.03931],[0.652,0.03910],[0.6637,0.03967],[0.6725,0.03988],[0.693,0.04000],[0.775,0.03982],[0.8175,0.03900],[0.838,0.04006],
            [0.854,0.03922],[0.843,0.04142],[0.854,0.04054],[0.8855,0.04063],[0.7873,0.04036],[0.891,0.03928],[0.8967,0.03976],[0.9318,0.03937],
            [0.946,0.04208],[0.9552,0.03967],[0.971,0.04063],[0.9942,0.04109],[0.9992,0.03976],[1.0358,0.03900],[1.0483,0.03967],[1.058,0.04145],
            [1.0563,0.03910],[1.0616,0.03892],[1.0862,0.03855]
        ];

        /************************************************************************************
        * Frame and scales
        ************************************************************************************/
        const svg = d3.select("svg");
        const frame = { left: 91.7, top: 73.3, right: 945, bottom: 652.7 };
        const width = frame.right - frame.left;
        const height = frame.bottom - frame.top;

        const xScale = d3.scaleLinear().domain([0.4, 1.15]).range([0, width]);
        const yScale = d3.scaleLinear().domain([0, 0.0524]).range([height, 0]);

        const chart = svg.append("g").attr("transform", `translate(${frame.left}, ${frame.top})`);

        // Minor tick positions: every fifth of a major step
        const xMinor = d3.range(0, 38).map(i => +(0.4 + i * 0.02).toFixed(3)).filter(v => v <= 1.15);
        const yMinor = d3.range(0, 27).map(i => +(i * 0.002).toFixed(3)).filter(v => v <= 0.0524);

        /************************************************************************************
        * Grid (dotted)
        ************************************************************************************/
        chart.append("g")
            .attr("class", "grid")
            .attr("transform", `translate(0, ${height})`)
            .call(d3.axisBottom(xScale).tickValues(xTicks).tickSize(-height).tickFormat(""))
            .call(g => g.select(".domain").remove());
        chart.append("g")
            .attr("class", "grid")
            .call(d3.axisLeft(yScale).tickValues(yTicks).tickSize(-width).tickFormat(""))
            .call(g => g.select(".domain").remove());
        chart.selectAll(".grid line")
            .attr("stroke", "#000")
            .attr("stroke-width", 1)
            .attr("stroke-dasharray", "1.3,3");

        /************************************************************************************
        * Scatter
        ************************************************************************************/
        const allPoints = bandPoints.concat(fringePoints, tailPoints);
        chart.append("g")
            .selectAll("rect")
            .data(allPoints)
            .join("rect")
            .attr("x", d => xScale(d[0]) - 1)
            .attr("y", d => yScale(d[1]) - 1)
            .attr("width", 2)
            .attr("height", 2)
            .attr("fill", "#000");

        /************************************************************************************
        * Axes (ticks drawn inside the frame, ROOT style)
        ************************************************************************************/
        const fontFamily = '"Liberation Sans", Arial, Helvetica, sans-serif';

        // Minor ticks
        chart.append("g")
            .attr("class", "tick-minor")
            .attr("transform", `translate(0, ${height})`)
            .call(d3.axisBottom(xScale).tickValues(xMinor).tickSize(-9).tickFormat(""));
        chart.append("g")
            .attr("class", "tick-minor")
            .call(d3.axisLeft(yScale).tickValues(yMinor).tickSize(-12).tickFormat(""));

        // Major ticks with labels
        const xAxis = chart.append("g")
            .attr("class", "xAxis")
            .attr("transform", `translate(0, ${height})`)
            .call(d3.axisBottom(xScale).tickValues(xTicks).tickSize(-17)
                .tickFormat((d, i) => xTickLabels[i]));
        const yAxis = chart.append("g")
            .attr("class", "yAxis")
            .call(d3.axisLeft(yScale).tickValues(yTicks).tickSize(-23).tickPadding(8)
                .tickFormat((d, i) => yTickLabels[i]));

        chart.selectAll(".tick-minor .domain, .xAxis .domain, .yAxis .domain").remove();
        chart.selectAll(".tick-minor line, .xAxis line, .yAxis line")
            .attr("stroke", "#000")
            .attr("stroke-width", 1.5);

        xAxis.selectAll("text")
            .attr("font-family", fontFamily)
            .attr("font-size", 22)
            .attr("y", 24)
            .attr("dy", 0);
        yAxis.selectAll("text")
            .attr("font-family", fontFamily)
            .attr("font-size", 22)
            .attr("dy", "0.36em");

        // Frame
        chart.append("rect")
            .attr("x", 0).attr("y", 0)
            .attr("width", width).attr("height", height)
            .attr("fill", "none")
            .attr("stroke", "#000")
            .attr("stroke-width", 1.6);

        /************************************************************************************
        * Titles
        ************************************************************************************/
        svg.append("text")
            .attr("x", 519.5)
            .attr("y", 48)
            .attr("text-anchor", "middle")
            .attr("font-size", 31)
            .attr("textLength", 574)
            .attr("lengthAdjust", "spacingAndGlyphs")
            .text(title);

        svg.append("text")
            .attr("x", frame.right)
            .attr("y", 701)
            .attr("text-anchor", "end")
            .attr("font-size", 24)
            .text(xTitle);

        svg.append("text")
            .attr("transform", `translate(38, ${frame.top}) rotate(-90)`)
            .attr("text-anchor", "end")
            .attr("font-size", 24)
            .text(yTitle);
    </script>
</body>
</html>
